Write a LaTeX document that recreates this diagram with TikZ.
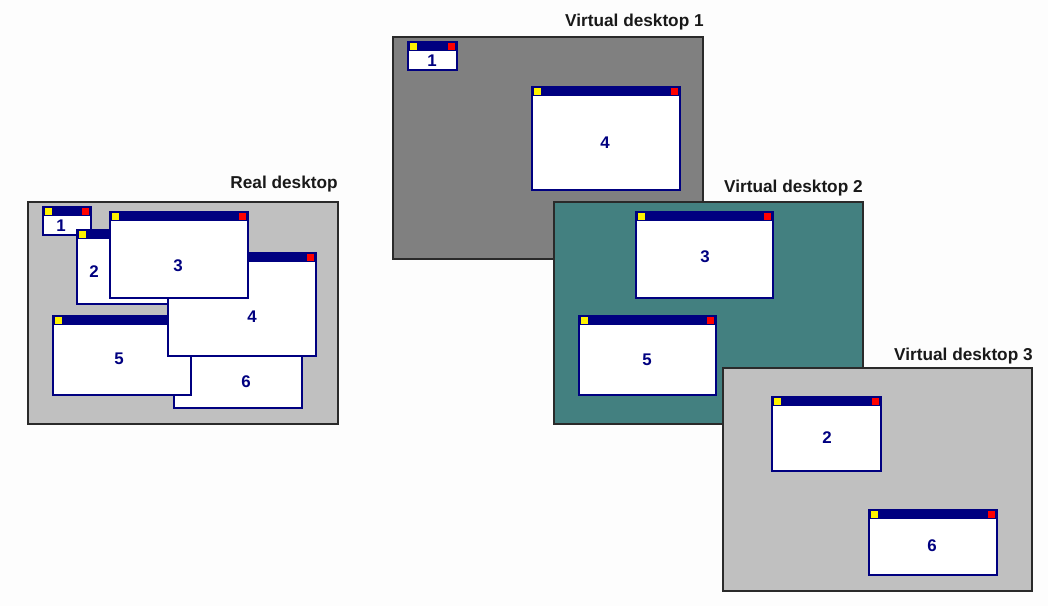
\documentclass[tikz,border=0pt]{standalone}
\usepackage{fontspec}
\newfontfamily\guifont{Liberation Sans}
\usetikzlibrary{positioning}

\definecolor{pagebg}{HTML}{FDFDFD}
\definecolor{navy}{HTML}{000080}
\definecolor{lightdesk}{HTML}{C0C0C0}
\definecolor{darkdesk}{HTML}{808080}
\definecolor{tealdesk}{HTML}{438080}
\definecolor{deskline}{HTML}{2A2A2A}

\tikzset{
  desk/.style={draw=deskline, line width=0.7pt},
  desktitle/.style={font=\guifont\bfseries\fontsize{9.8}{11}\selectfont, text=black!90, inner sep=0pt, anchor=base east},
  winframe/.style={draw=navy, line width=0.8pt},
  winlabel/.style={font=\guifont\bfseries\fontsize{9.6}{11}\selectfont, text=navy, inner sep=0pt}
}

% window: name, top left corner, width, height, number, label position
\newcommand{\appwin}[6]{%
  \filldraw[winframe, fill=white] (#2) rectangle ++(#3,#4);
  \fill[navy] (#2) rectangle ++(#3,9);
  \fill[yellow] (#2) ++(2.2,1.2) rectangle ++(6.6,6.6);
  \fill[red] (#2) ++(#3,0) ++(-8.8,1.2) rectangle ++(6.6,6.6);
  \node[winlabel] (#1) at (#6) {#5};
}

\begin{document}
\begin{tikzpicture}[x=0.02cm, y=-0.02cm]
  \fill[pagebg] (0,0) rectangle (1048,606);
  \useasboundingbox (0,0) rectangle (1048,606);

  % Real desktop: all six windows on one screen
  \draw[desk, fill=lightdesk] (28,202) rectangle (338,424);
  \node[desktitle] (realtitle) at (338,188) {Real desktop};
  \appwin{r1}{43,207}{48}{28}{1}{61,226}
  \appwin{r2}{77,230}{108}{74}{2}{94,272}
  \appwin{r6}{174,343}{128}{65}{6}{246,382}
  \appwin{r5}{53,316}{138}{79}{5}{119,359}
  \appwin{r4}{168,253}{148}{103}{4}{252,317}
  \appwin{r3}{110,212}{138}{86}{3}{178,266}

  % Virtual desktop 1
  \draw[desk, fill=darkdesk] (393,37) rectangle (703,259);
  \node[desktitle] (vonetitle) at (704,26.5) {Virtual desktop 1};
  \appwin{v1a}{408,42}{49}{28}{1}{432,61}
  \appwin{v1b}{532,87}{148}{103}{4}{605,143}

  % Virtual desktop 2
  \draw[desk, fill=tealdesk] (554,202) rectangle (863,424);
  \node[desktitle] (vtwotitle) at (863,192.5) {Virtual desktop 2};
  \appwin{v2a}{636,212}{137}{86}{3}{705,257}
  \appwin{v2b}{579,316}{137}{79}{5}{647,360}

  % Virtual desktop 3
  \draw[desk, fill=lightdesk] (723,368) rectangle (1032,591);
  \node[desktitle] (vthreetitle) at (1033,360) {Virtual desktop 3};
  \appwin{v3a}{772,397}{109}{74}{2}{827,438}
  \appwin{v3b}{869,510}{128}{65}{6}{932,546}
\end{tikzpicture}
\end{document}
